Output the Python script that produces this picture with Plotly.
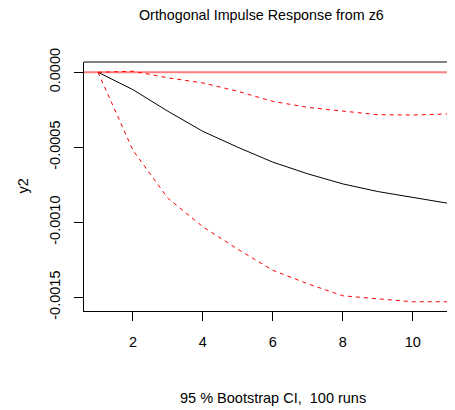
import plotly.graph_objects as go

horizon = [1, 2, 3, 4, 5, 6, 7, 8, 9, 10, 11]
irf = [0.0, -0.000116, -0.00026, -0.000394, -0.0005, -0.000599, -0.000677,
       -0.000744, -0.000795, -0.000833, -0.000873]
upper = [0.0, 0.000007, -0.000037, -0.000071, -0.000127, -0.000194, -0.000234,
         -0.00026, -0.000283, -0.000285, -0.000278]
lower = [0.0, -0.00052, -0.00084, -0.00103, -0.00118, -0.00132, -0.00141,
         -0.00149, -0.00151, -0.00153, -0.00153]
x_ticks = [2, 4, 6, 8, 10]
y_ticks = [0.0, -0.0005, -0.0010, -0.0015]
y_ticktext = ["0.0000", "-0.0005", "-0.0010", "-0.0015"]

FONT = "Liberation Sans, Arial, sans-serif"

fig = go.Figure()
fig.add_trace(go.Scatter(x=horizon, y=irf, mode="lines",
                         line=dict(color="black", width=1)))
fig.add_trace(go.Scatter(x=horizon, y=upper, mode="lines",
                         line=dict(color="red", width=1, dash="4px,4px")))
fig.add_trace(go.Scatter(x=horizon, y=lower, mode="lines",
                         line=dict(color="red", width=1, dash="4px,4px")))

# zero reference line
fig.add_shape(type="line", xref="paper", yref="y", x0=0, x1=1, y0=0, y1=0,
              line=dict(color="rgba(255,0,0,0.5)", width=2), layer="below")
# top border of box
fig.add_shape(type="line", xref="paper", yref="paper", x0=0, x1=1, y0=1, y1=1,
              line=dict(color="black", width=1))

# the page body adds an 8px offset; figure coordinates = window coordinates - 8
OFF = 8
W, H = 455 - OFF, 410 - OFF
ml, mr, mt, mb = 76, 0, 54, 99
pw = W - ml - mr
ph = H - mt - mb

def xpaper(px):
    return (px - OFF - ml) / pw

def ypaper(py):
    return 1 - (py - OFF - mt) / ph

fig.update_layout(
    width=W, height=H,
    margin=dict(l=ml, r=mr, t=mt, b=mb, pad=0),
    paper_bgcolor="white", plot_bgcolor="white",
    showlegend=False,
    font=dict(family=FONT, size=14.5, color="black"),
    xaxis=dict(range=[0.6, 11.21], tickvals=x_ticks, ticks="outside",
               ticklen=9, tickwidth=1, tickcolor="black",
               showline=True, linecolor="black", linewidth=1,
               showgrid=False, zeroline=False, ticklabelstandoff=9,
               tickfont=dict(size=14.5)),
    yaxis=dict(range=[-0.0015915, 0.0000685], tickvals=y_ticks,
               ticktext=y_ticktext, tickangle=-90, ticks="outside",
               ticklen=9, tickwidth=1, tickcolor="black",
               showline=True, linecolor="black", linewidth=1,
               showgrid=False, zeroline=False, ticklabelstandoff=8,
               tickfont=dict(size=14.5)),
    annotations=[
        dict(text="Orthogonal Impulse Response from z6", xref="paper", yref="paper",
             x=xpaper(261), y=ypaper(15), showarrow=False,
             xanchor="center", yanchor="middle", font=dict(size=14.3)),
        dict(text="95 % Bootstrap CI,  100 runs", xref="paper", yref="paper",
             x=xpaper(272.5), y=ypaper(398), showarrow=False,
             xanchor="center", yanchor="middle", font=dict(size=14.5)),
        dict(text="y2", xref="paper", yref="paper",
             x=xpaper(22), y=ypaper(186.5), showarrow=False, textangle=-90,
             xanchor="center", yanchor="middle", font=dict(size=14.5)),
    ],
)

fig.write_html("out.html")
